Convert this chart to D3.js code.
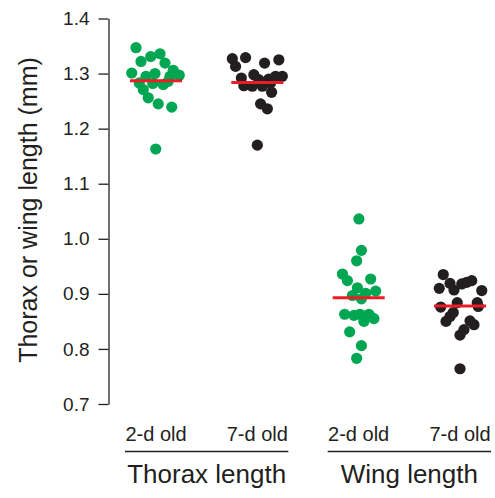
<!DOCTYPE html>
<html>
<head>
<meta charset="utf-8">
<script src="https://cdn.jsdelivr.net/npm/d3@7"></script>
<style>
  body { margin: 0; background: #fff; }
  text { font-family: "Liberation Sans", Arial, sans-serif; fill: #231f20; }
</style>
</head>
<body>
<div id="chart"></div>
<script>
// groups and sub-categories
var groups = ["Thorax length", "Wing length"];
var ages = ["2-d old", "7-d old"];
var categories = ["thorax2", "thorax7", "wing2", "wing7"];
var yTicks = [0.7, 0.8, 0.9, 1.0, 1.1, 1.2, 1.3, 1.4];

var thorax2d = [1.347, 1.322, 1.331, 1.336, 1.319, 1.301, 1.295, 1.300, 1.306, 1.297,
                1.295, 1.283, 1.282, 1.280, 1.286, 1.271, 1.256, 1.245, 1.239, 1.163];
var thorax7d = [1.327, 1.313, 1.329, 1.319, 1.325, 1.292, 1.278, 1.298, 1.277, 1.289,
                1.277, 1.283, 1.295, 1.295, 1.290, 1.266, 1.245, 1.236, 1.170];
var wing2d = [1.036, 0.979, 0.960, 0.936, 0.924, 0.927, 0.911, 0.905, 0.897, 0.901,
              0.891, 0.863, 0.861, 0.863, 0.850, 0.863, 0.855, 0.831, 0.806, 0.783];
var wing7d = [0.935, 0.919, 0.910, 0.907, 0.918, 0.921, 0.924, 0.906, 0.876, 0.884,
              0.884, 0.866, 0.859, 0.850, 0.877, 0.851, 0.844, 0.835, 0.825, 0.764];

// horizontal spread of each dot (-1 .. 1)
var thorax2dJitter = [-0.8, -0.6, -0.21, 0.16, 0.36, -0.97, -0.4, -0.04, 0.69, 0.93,
                      0.56, -0.67, -0.13, 0.29, 0.49, -0.51, -0.31, 0.09, 0.63, -0.01];
var thorax7dJitter = [-1.0, -0.87, -0.47, 0.29, 0.86, -0.64, -0.54, -0.14, -0.2, 0.06,
                      0.2, 0.53, 0.73, 1.0, 0.46, 0.57, 0.13, 0.4, 0];
var wing2dJitter = [0.01, 0.11, -0.08, -0.65, -0.45, 0.48, -0.05, 0.68, -0.25, 0.28,
                    0.11, -0.56, -0.19, 0.05, 0.21, 0.41, 0.61, -0.36, 0.11, -0.08];
var wing7dJitter = [-0.67, -0.4, -0.83, -0.24, 0.07, 0.27, 0.47, 0.87, -0.77, -0.11,
                    0.69, -0.27, -0.4, -0.56, 0.73, 0.4, 0.56, 0.16, 0, 0];

// group means (red bars)
var means = [1.287, 1.284, 0.893, 0.878];

var values = [thorax2d, thorax7d, wing2d, wing7d];
var jitters = [thorax2dJitter, thorax7dJitter, wing2dJitter, wing7dJitter];
var colors = ["#00a651", "#231f20", "#00a651", "#231f20"];

var width = 495, height = 498;

var svg = d3.select("#chart").append("svg")
    .attr("width", width)
    .attr("height", height);

var y = d3.scaleLinear().domain([0.7, 1.4]).range([404, 18.5]);
var x = d3.scalePoint().domain(categories).range([156, 460]);
var jx = d3.scaleLinear().domain([-1, 1]).range([-25, 25]);

// y axis
var yAxis = d3.axisLeft(y)
    .tickValues(yTicks)
    .tickFormat(d3.format(".1f"))
    .tickSizeInner(10)
    .tickSizeOuter(0)
    .tickPadding(9);

var ax = svg.append("g")
    .attr("transform", "translate(108.5,0)")
    .call(yAxis);
ax.select(".domain").attr("stroke", "#231f20").attr("stroke-width", 1.3);
ax.selectAll(".tick line").attr("stroke", "#231f20").attr("stroke-width", 1.3);
ax.selectAll(".tick text")
    .style("font-family", "'Liberation Sans', Arial, sans-serif")
    .style("font-size", "19px")
    .attr("fill", "#231f20");

svg.append("text")
    .attr("transform", "translate(37,210) rotate(-90)")
    .attr("text-anchor", "middle")
    .style("font-size", "25px")
    .text("Thorax or wing length (mm)");

// dots
var points = [];
categories.forEach(function (c, i) {
    values[i].forEach(function (v, j) {
        points.push({ cat: c, value: v, jit: jitters[i][j], color: colors[i] });
    });
});

svg.append("g").selectAll("circle")
    .data(points)
    .enter().append("circle")
    .attr("cx", function (d) { return x(d.cat) + jx(d.jit); })
    .attr("cy", function (d) { return y(d.value); })
    .attr("r", 5.6)
    .attr("fill", function (d) { return d.color; });

// mean bars
svg.append("g").selectAll("line")
    .data(means)
    .enter().append("line")
    .attr("x1", function (d, i) { return x(categories[i]) - 26; })
    .attr("x2", function (d, i) { return x(categories[i]) + 26; })
    .attr("y1", function (d) { return y(d); })
    .attr("y2", function (d) { return y(d); })
    .attr("stroke", "#ed1c24")
    .attr("stroke-width", 3);

// category labels
svg.append("g").selectAll("text")
    .data(categories)
    .enter().append("text")
    .attr("x", function (d) { return x(d); })
    .attr("y", 440.5)
    .attr("text-anchor", "middle")
    .style("font-size", "20px")
    .text(function (d, i) { return ages[i % 2]; });

// group underline + label
groups.forEach(function (g, i) {
    var a = x(categories[i * 2]), b = x(categories[i * 2 + 1]);
    svg.append("line")
        .attr("x1", a - 31).attr("x2", b + 31)
        .attr("y1", 451.5).attr("y2", 451.5)
        .attr("stroke", "#231f20")
        .attr("stroke-width", 1.5);
    svg.append("text")
        .attr("x", (a + b) / 2)
        .attr("y", 482.5)
        .attr("text-anchor", "middle")
        .style("font-size", "26px")
        .text(g);
});
</script>
</body>
</html>
